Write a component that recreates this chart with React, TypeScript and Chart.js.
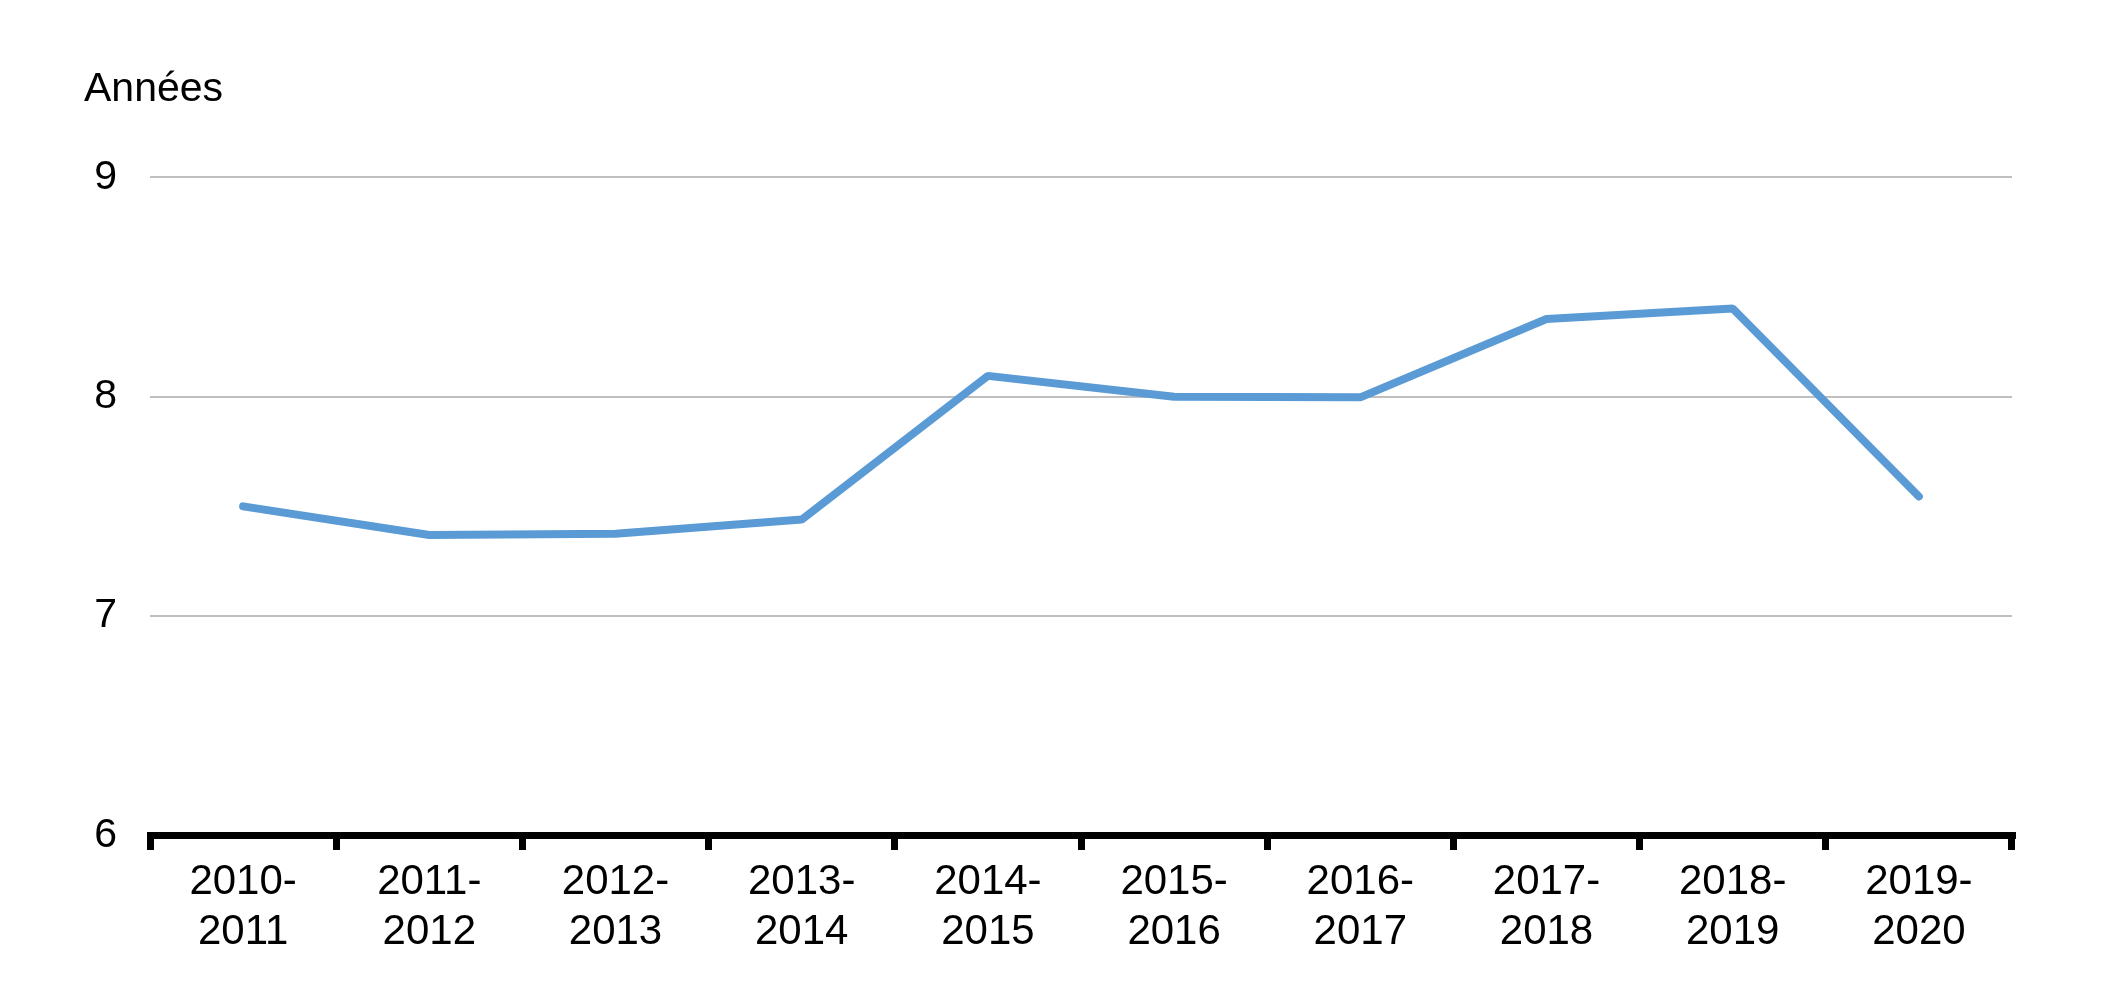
import React, { useEffect, useRef } from "react";
import { Chart, registerables } from "chart.js";

Chart.register(...registerables);

const categories: string[][] = [
  ["2010-", "2011"],
  ["2011-", "2012"],
  ["2012-", "2013"],
  ["2013-", "2014"],
  ["2014-", "2015"],
  ["2015-", "2016"],
  ["2016-", "2017"],
  ["2017-", "2018"],
  ["2018-", "2019"],
  ["2019-", "2020"],
];

const years: number[] = [7.5, 7.37, 7.375, 7.44, 8.095, 8.0, 7.997, 8.354, 8.402, 7.545];

const yTicks: number[] = [6, 7, 8, 9];

const unitLabel = "Années";

const FONT = '"Liberation Sans", Arial, Helvetica, sans-serif';

export default function App() {
  const canvasRef = useRef<HTMLCanvasElement | null>(null);

  useEffect(() => {
    document.body.style.margin = "0";
    const canvas = canvasRef.current;
    if (!canvas) return;

    const titlePlugin = {
      id: "unitTitle",
      afterDraw(chart: any) {
        const { ctx, chartArea } = chart;
        ctx.save();
        ctx.font = `41px ${FONT}`;
        ctx.fillStyle = "#000000";
        ctx.textAlign = "left";
        ctx.textBaseline = "alphabetic";
        ctx.fillText(unitLabel, chartArea.left - 66, chartArea.top - 76);
        ctx.restore();
      },
    };

    const chart = new Chart(canvas, {
      type: "line",
      data: {
        labels: categories,
        datasets: [
          {
            data: years,
            borderColor: "#5B9BD5",
            backgroundColor: "#5B9BD5",
            borderWidth: 8,
            pointRadius: 0,
            pointHoverRadius: 0,
            tension: 0,
            borderCapStyle: "round",
            borderJoinStyle: "bevel",
            fill: false,
          },
        ],
      },
      options: {
        animation: false,
        responsive: true,
        maintainAspectRatio: false,
        layout: { padding: { top: 177.3, right: 89, bottom: 0, left: 0 } },
        plugins: {
          legend: { display: false },
          tooltip: { enabled: false },
          title: { display: false },
        },
        scales: {
          x: {
            type: "category",
            offset: true,
            grid: {
              display: true,
              offset: true,
              drawOnChartArea: false,
              drawTicks: true,
              tickLength: 14.5,
              lineWidth: 7,
              color: "#000000",
            },
            border: { display: true, width: 7, color: "#000000" },
            ticks: {
              color: "#000000",
              font: { family: FONT, size: 42, lineHeight: 1.19 },
              padding: 7,
              maxRotation: 0,
              minRotation: 0,
              autoSkip: false,
            },
            afterFit(scale: any) {
              scale.height = 167.5;
            },
          },
          y: {
            min: 6,
            max: 9,
            afterBuildTicks(scale: any) {
              scale.ticks = yTicks.map((v) => ({ value: v }));
            },
            grid: {
              display: true,
              drawTicks: false,
              lineWidth: 2,
              color: "#BFBFBF",
            },
            border: { display: false },
            ticks: {
              color: "#000000",
              font: { family: FONT, size: 41 },
              padding: 33,
              callback: (v: any) => String(v),
            },
            afterFit(scale: any) {
              scale.width = 150;
            },
          },
        },
      },
      plugins: [titlePlugin],
    });

    return () => {
      chart.destroy();
    };
  }, []);

  return (
    <div style={{ position: "relative", width: "2101px", height: "1003px", background: "#ffffff" }}>
      <canvas ref={canvasRef} />
    </div>
  );
}
